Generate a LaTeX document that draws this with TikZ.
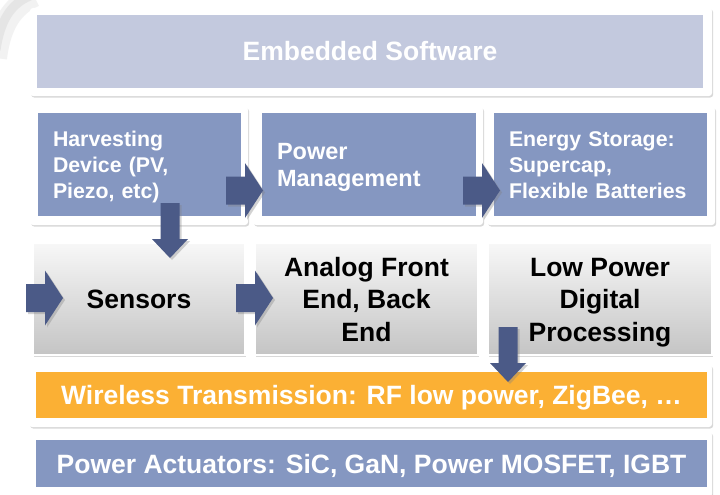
\documentclass[tikz,border=0pt]{standalone}
\usepackage{fontspec}
\setmainfont{Liberation Sans}
\usetikzlibrary{shadows}
\definecolor{paleblue}{HTML}{C3C9DE}
\definecolor{midblue}{HTML}{8597C1}
\definecolor{arrowblue}{HTML}{4B5A87}
\definecolor{radioorange}{HTML}{FBB034}
\tikzset{frame/.style={fill=white,rounded corners=3pt,
		drop shadow={shadow xshift=1.2pt,shadow yshift=-1.5pt,opacity=.3}},
	layer/.style={inner sep=0pt,text=white,text height=19pt,text depth=0pt,
		font=\fontsize{26.5}{32.5}\selectfont\bfseries},
	stage/.style={inner xsep=15pt,inner ysep=0pt,align=left,fill=midblue,text=white,
		minimum height=103pt},
	chip/.style={inner sep=0pt,align=center,top color=black!3,bottom color=black!23,
		draw=white,line width=1.2pt,minimum height=112pt,text height=19pt,text depth=0pt,
		drop shadow={shadow xshift=1.2pt,shadow yshift=-1.5pt,opacity=.3},
		font=\fontsize{26.5}{32.5}\selectfont\bfseries},
	flow/.style={fill=arrowblue,
		drop shadow={shadow xshift=2pt,shadow yshift=-2pt,opacity=.35}}}
\newcommand\rightflow[1]{\fill[flow] (#1) -- ++(-18,-27.5) -- ++(0,13.5) -- ++(-19,0)
	-- ++(0,28) -- ++(19,0) -- ++(0,13.5) -- cycle;}
\newcommand\downflow[1]{\fill[flow] (#1) -- ++(-18,-19) -- ++(8.5,0) -- ++(0,-36)
	-- ++(19,0) -- ++(0,36) -- ++(8.5,0) -- cycle;}

\begin{document}
\begin{tikzpicture}[x=1pt,y=-1pt]
\useasboundingbox[fill=white] (0,0) rectangle (720,495);
% faint shade in the corner
\draw[black!5,line width=22pt] (-4,58) .. controls (0,25) and (12,6) .. (34,-4);
\draw[black!10,line width=9pt] (-4,50) .. controls (0,22) and (10,4) .. (30,-4);

% software layer
\node[frame,minimum width=682pt,minimum height=88pt] (softF) at (371,52) {};
\node[layer,fill=paleblue,minimum width=666pt,minimum height=73pt] (soft) at (370,51.5) {Embedded Software};

% energy chain
\node[frame,minimum width=218pt,minimum height=118pt] (harvF) at (139,166) {};
\node[frame,minimum width=230pt,minimum height=118pt] (pmF) at (368,166) {};
\node[frame,minimum width=228pt,minimum height=118pt] (storeF) at (601,166) {};
\node[stage,text width=173pt,text height=15.3pt,text depth=52pt,
	font=\fontsize{21.3}{26}\selectfont\bfseries] (harv) at (139.5,164.5)
	{Harvesting\\Device (PV,\\Piezo, etc)};
\node[stage,text width=184pt,text height=16.8pt,text depth=27pt,
	font=\fontsize{23.5}{27}\selectfont\bfseries] (pm) at (369,164.5)
	{Power\\Management};
\node[stage,text width=183pt,text height=15.3pt,text depth=52pt,
	font=\fontsize{21.3}{26}\selectfont\bfseries] (store) at (600.5,164.5)
	{Energy Storage:\\Supercap,\\Flexible Batteries};

% signal chain
\node[chip,minimum width=212pt] (sens) at (139,299) {Sensors};
\node[chip,minimum width=223pt,text height=84pt] (afe) at (366.5,299) {Analog Front\\End, Back\\End};
\node[chip,minimum width=224pt,text height=84pt] (dsp) at (600,299) {Low Power\\Digital\\Processing};

% radio and actuators
\node[frame,minimum width=683pt,minimum height=62pt] (radioF) at (370.5,396) {};
\node[layer,fill=radioorange,minimum width=671pt,minimum height=46pt] (radio) at (371.5,395)
	{Wireless Transmission: RF low power, ZigBee, …};
\node[frame,minimum width=683pt,minimum height=65pt] (actF) at (370.5,464.5) {};
\node[layer,fill=midblue,minimum width=671pt,minimum height=47pt] (act) at (371.5,463.5)
	{Power Actuators: SiC, GaN, Power MOSFET, IGBT};

% block arrows
\coordinate (harv2pm) at (263,190.5);
\coordinate (pm2store) at (500,190.5);
\coordinate (in2sens) at (63,298);
\coordinate (sens2afe) at (273,298);
\coordinate (harv2sens) at (170,258);
\coordinate (dsp2radio) at (508,382);
\rightflow{harv2pm}
\rightflow{pm2store}
\rightflow{in2sens}
\rightflow{sens2afe}
\downflow{harv2sens}
\downflow{dsp2radio}
\end{tikzpicture}
\end{document}
